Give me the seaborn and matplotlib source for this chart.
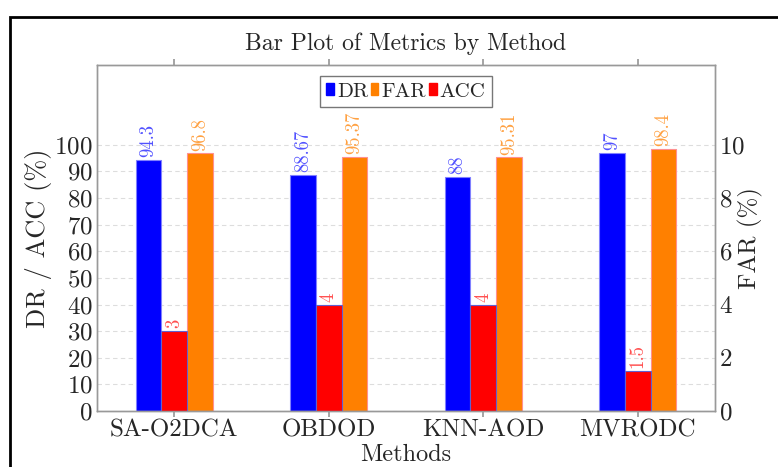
import matplotlib
matplotlib.use("Agg")
import matplotlib.pyplot as plt
import matplotlib.colors as mcolors
import seaborn as sns
import pandas as pd
import numpy as np
from matplotlib.patches import Patch, Rectangle

methods = ["SA-O2DCA", "OBDOD", "KNN-AOD", "MVRODC"]
dr = [94.3, 88.67, 88, 97]
far = [3, 4, 4, 1.5]
acc = [96.8, 95.37, 95.31, 98.4]
hue_order = ["DR", "FAR", "ACC"]
bar_colors = {"DR": "#0000ff", "FAR": "#ff0000", "ACC": "#ff8000"}
edge_colors = {"DR": "#8080ff", "FAR": "#6060d0", "ACC": "#ff9090"}
label_colors = {"DR": "#5050ff", "FAR": "#ff5050", "ACC": "#ffa040"}
legend_colors = {"DR": "#0000ff", "FAR": "#ff8000", "ACC": "#ff0000"}

sns.set_theme(style="white")
plt.rcParams["font.family"] = ["cmr10", "DejaVu Serif"]
plt.rcParams["axes.formatter.use_mathtext"] = True
plt.rcParams["mathtext.fontset"] = "cm"

left_df = pd.DataFrame({
    "Method": methods * 2,
    "Metric": ["DR"] * 4 + ["ACC"] * 4,
    "Value": dr + acc,
})
right_df = pd.DataFrame({"Method": methods, "Metric": ["FAR"] * 4, "Value": far})

fig = plt.figure(figsize=(7.78, 4.67), dpi=100)
ax = fig.add_axes([0.1247, 0.1199, 0.7944, 0.741])
ax2 = ax.twinx()

sns.barplot(data=left_df, x="Method", y="Value", hue="Metric", hue_order=hue_order,
            order=methods, palette=bar_colors, width=0.5, ax=ax, legend=False,
            linewidth=0.8, saturation=1, dodge=True)
sns.barplot(data=right_df, x="Method", y="Value", hue="Metric", hue_order=hue_order,
            order=methods, palette=bar_colors, width=0.5, ax=ax2, legend=False,
            linewidth=0.8, saturation=1, dodge=True)


def name_of(patch):
    fc = np.array(patch.get_facecolor()[:3])
    for k, c in bar_colors.items():
        if np.allclose(fc, mcolors.to_rgb(c), atol=0.02):
            return k
    return None


for a in (ax, ax2):
    for cont in a.containers:
        if len(cont.patches) == 0:
            continue
        name = name_of(cont.patches[0])
        if name is None:
            continue
        for p in cont.patches:
            p.set_edgecolor(edge_colors[name])
        labels = [("%g" % p.get_height()) for p in cont.patches]
        a.bar_label(cont, labels=labels, rotation=90, padding=2,
                    color=label_colors[name], fontsize=13.5)

ax.set_xlim(-0.5, 3.5)
ax.set_ylim(0, 130)
ax2.set_ylim(0, 13)
ax.set_yticks(range(0, 101, 10))
ax2.set_yticks(range(0, 11, 2))
ax.yaxis.grid(True, linestyle=(0, (4, 3)), color="#dddddd", linewidth=0.8)
ax.set_axisbelow(True)

ax.set_xlabel("Methods", fontsize=17.5, labelpad=2)
ax.set_ylabel("DR / ACC (%)", fontsize=19, labelpad=2)
ax2.set_ylabel("FAR (%)", fontsize=18, labelpad=-5)
ax.set_title("Bar Plot of Metrics by Method", fontsize=17, pad=11)

ax.tick_params(axis="x", labelsize=18, length=4, color="#999999", bottom=True, top=True,
               direction="out", pad=2)
ax.tick_params(axis="y", labelsize=18, length=0, pad=3)
ax2.tick_params(axis="y", labelsize=18, length=0, pad=3)
ax2.tick_params(axis="x", top=True, length=4, color="#999999")

for a in (ax, ax2):
    for s in a.spines.values():
        s.set_color("#999999")
        s.set_linewidth(1.0)

handles = [Patch(facecolor=legend_colors[h], edgecolor=legend_colors[h]) for h in hue_order]
leg = ax.legend(handles, hue_order, loc="upper center", bbox_to_anchor=(0.5, 0.985),
                ncol=3, frameon=True, fontsize=15, handlelength=0.35, handleheight=0.55,
                handletextpad=0.15, columnspacing=0.15, borderpad=0.3, fancybox=False,
                borderaxespad=0.3)
leg.get_frame().set_edgecolor("#555555")
leg.get_frame().set_linewidth(1.0)

fig.patches.append(Rectangle((10 / 778, -0.1), 1.2, 1 - 17 / 467 + 0.1,
                             transform=fig.transFigure, fill=False,
                             edgecolor="black", linewidth=2, zorder=10))

fig.savefig("out.png", dpi=100)
